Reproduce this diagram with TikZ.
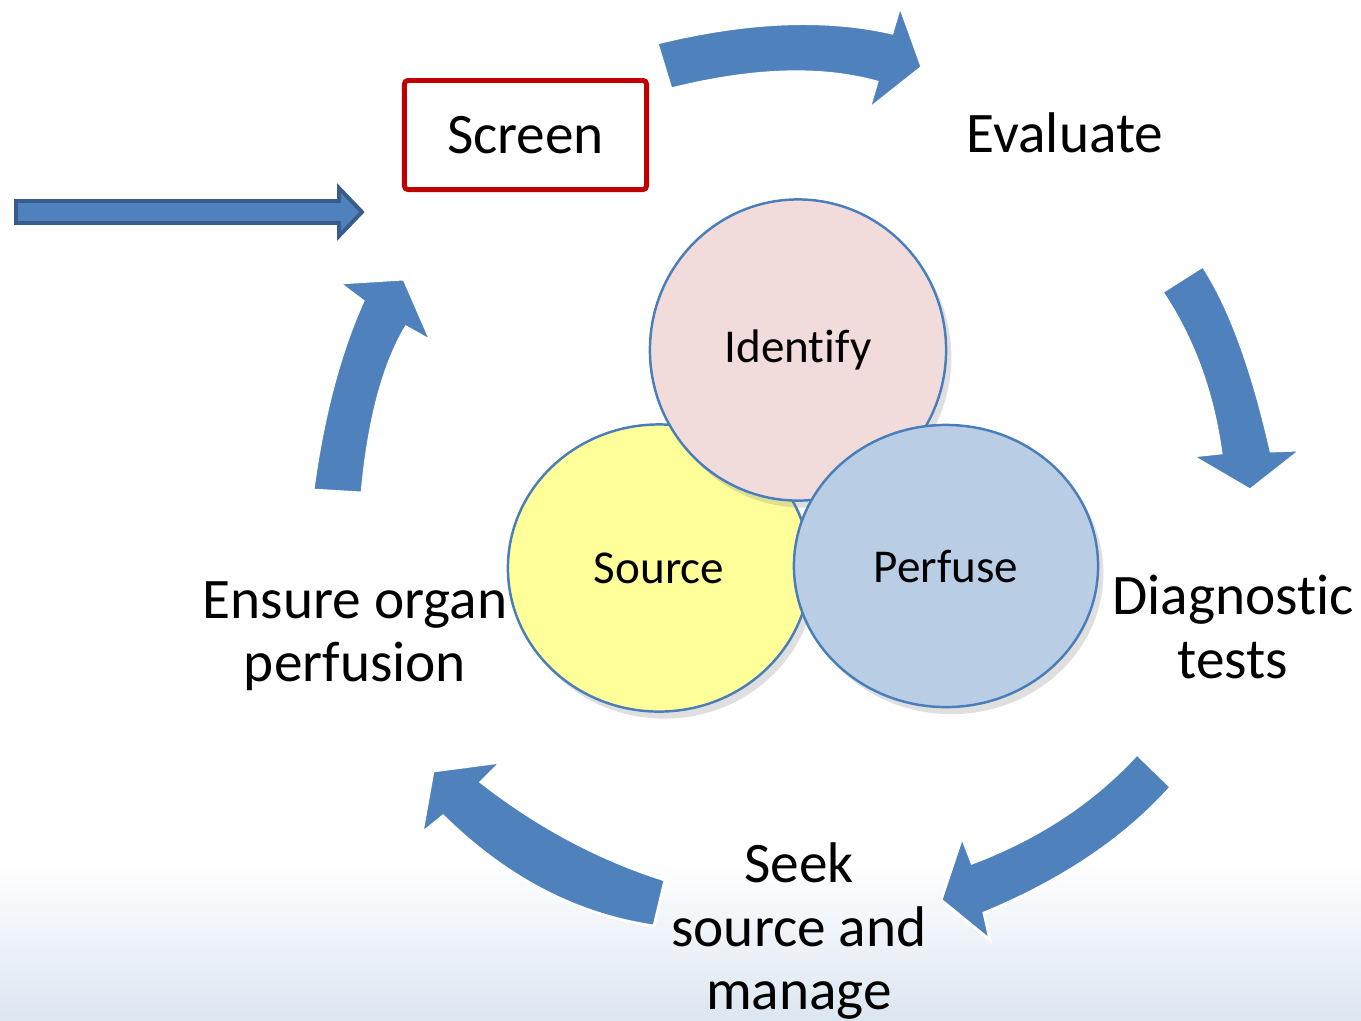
\documentclass[tikz,border=0pt]{standalone}
\usepackage{fontspec}
\setmainfont{Carlito}[Ligatures=NoCommon]
\usetikzlibrary{shapes.geometric,shadows}

\definecolor{arrowblue}{RGB}{79,129,189}
\definecolor{arrowedge}{RGB}{56,93,138}
\definecolor{ringedge}{RGB}{74,126,187}
\definecolor{pinkfill}{RGB}{242,220,219}
\definecolor{yellowfill}{RGB}{255,255,153}
\definecolor{bluefill}{RGB}{185,205,229}
\definecolor{screenred}{RGB}{192,0,0}
\definecolor{floorblue}{RGB}{220,230,241}

\tikzset{
  bigarrow/.style={fill=arrowblue,draw=white,line width=0.8pt,line join=miter},
  stage/.style={font=\fontsize{16.3}{18}\selectfont,align=center,inner sep=0pt},
  disc/.style={ellipse,draw=ringedge,line width=0.7pt,inner sep=0pt,
    font=\fontsize{13.4}{16}\selectfont,
    drop shadow={opacity=0.25,shadow xshift=1.5pt,shadow yshift=-2pt}}
}

\begin{document}
\begin{tikzpicture}[x=0.01cm,y=-0.01cm]
                        \useasboundingbox (0,0) rectangle (1361,1020);
                        \shade[top color=white,bottom color=floorblue] (0,860) rectangle (1361,1020);

                        % curved block arrows round the cycle
                        \path[bigarrow] (657,43) .. controls (746.7,21) and (825,17.7) .. (892,33) -- (900,6) -- (922,67)
                          -- (869,109) -- (877,82) .. controls (820.3,66.3) and (751.7,68.7) .. (671,89) -- cycle;
                        \path[bigarrow] (1203,266) .. controls (1229.7,307) and (1252.3,368.7) .. (1271,451) -- (1301,450) -- (1250,490)
                          -- (1192,456) -- (1221,453) .. controls (1212.7,392) and (1193,338.3) .. (1162,292) -- cycle;
                        \path[bigarrow] (1137,754) .. controls (1093.3,801.7) and (1038.3,838) .. (972,863) -- (962,837) -- (941,900)
                          -- (990,940) -- (984,913) .. controls (1063,880.3) and (1125.3,838.3) .. (1171,787) -- cycle;
                        \path[bigarrow] (665,880) .. controls (599.7,859.3) and (538.3,826.7) .. (481,782) -- (501,762) -- (433,771)
                          -- (422,833) -- (443,816) .. controls (506,878) and (576.3,914.7) .. (654,926) -- cycle;
                        \path[bigarrow] (313,490) .. controls (323,415.7) and (339.7,352.7) .. (363,301) -- (339,283) -- (404,279)
                          -- (431,341) -- (406,327) .. controls (383.3,365) and (368.7,420.3) .. (362,493) -- cycle;

                        % entry arrow
                        \path[fill=arrowblue,draw=arrowedge,line width=1.1pt] (16,201) -- (339,201) -- (339,188)
                          -- (362,212) -- (339,236) -- (339,223) -- (16,223) -- cycle;

                        \node[stage,draw=screenred,line width=1.4pt,rounded corners=1pt,
                          minimum width=2.42cm,minimum height=1.09cm] (screen) at (525.5,135) {Screen};

                        \node[disc,fill=yellowfill,minimum width=3.02cm,minimum height=2.87cm] (source) at (659,568) {Source};
                        \node[disc,fill=pinkfill,minimum width=2.96cm,minimum height=3.01cm] (identify) at (798,350) {\raisebox{-3pt}{Identify}};
                        \node[disc,fill=bluefill,minimum width=3.04cm,minimum height=2.82cm] (perfuse) at (946,566) {Perfuse};

                        \node[stage] (evaluate) at (1065,133) {Evaluate};
                        \node[stage] (diagnostic) at (1233,627) {Diagnostic\\tests};
                        \node[stage] (seek) at (799,931) {Seek\\source and\\manage};
                        \node[stage] (ensure) at (355,636) {Ensure organ\\perfusion};
                     \end{tikzpicture}
\end{document}
